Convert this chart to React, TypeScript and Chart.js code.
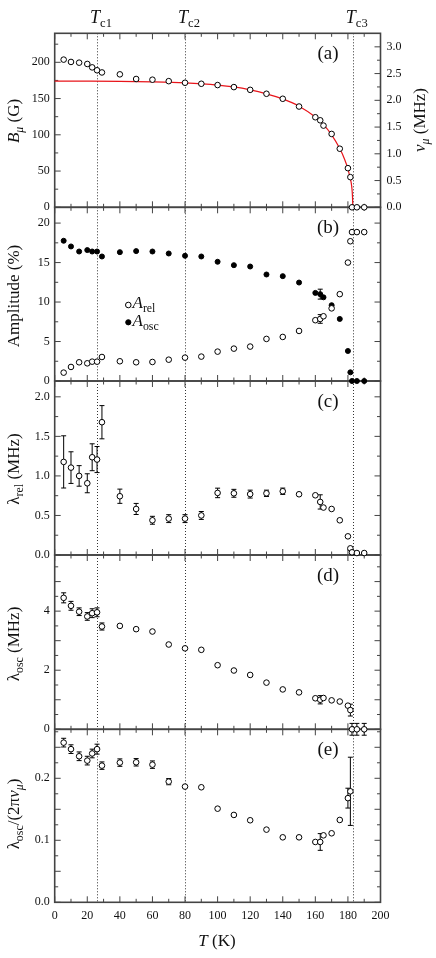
import { useEffect, useRef } from "react";
import Chart from "chart.js/auto";

// temperatures (K) shared by every panel
const temps = [5.5, 10, 15, 20, 23, 26, 29, 40, 50, 60, 70, 80, 90, 100, 110, 120, 130, 140, 150, 160, 163, 165, 170, 175, 180, 181.5, 182.5, 185.5, 190];

// (a) internal field
const fieldB = [203.7, 200.5, 199.5, 197.7, 193, 189, 186, 183.4, 177, 176, 174, 171.8, 170.4, 168.6, 165.8, 162, 156.6, 149.7, 139, 124.2, 120, 112.7, 101.2, 80.8, 54, 41.6, 0, 0, 0];
const fitT = [0, 20, 40, 60, 80, 100, 110, 120, 130, 140, 150, 160, 165, 170, 175, 178, 180, 181, 182, 182.5, 182.8, 183];
const fitB = [174, 174, 173.8, 173, 171.5, 168.5, 166, 162, 156.5, 149.5, 139.5, 124.5, 114, 100, 81, 66, 53, 44, 34, 25, 15, 0];

// (b) amplitudes
const ampRel = [1.06, 1.78, 2.37, 2.24, 2.45, 2.45, 3.04, 2.5, 2.37, 2.41, 2.7, 2.96, 3.09, 3.72, 4.1, 4.36, 5.33, 5.58, 6.34, 7.7, 7.86, 8.2, 9.2, 11.0, 15.0, 17.7, 18.86, 18.86, 18.86];
const ampRelErr = [0, 0, 0, 0, 0, 0, 0, 0, 0, 0, 0, 0, 0, 0, 0, 0, 0, 0, 0, 0, 0.55, 0, 0, 0, 0, 0, 0, 0, 0];
const ampOsc = [17.76, 17.04, 16.4, 16.58, 16.4, 16.4, 15.77, 16.32, 16.45, 16.4, 16.15, 15.86, 15.77, 15.1, 14.67, 14.5, 13.49, 13.28, 12.47, 11.16, 11.0, 10.6, 9.6, 7.86, 3.8, 1.1, 0, 0, 0];
const ampOscErr = [0, 0, 0, 0, 0, 0, 0, 0, 0, 0, 0, 0, 0, 0, 0, 0, 0, 0, 0, 0, 0.63, 0, 0, 0, 0, 0, 0, 0, 0.35];

// (c) relaxation rate
const lamRel = [1.177, 1.105, 1.0, 0.907, 1.236, 1.207, 1.679, 0.743, 0.582, 0.439, 0.46, 0.46, 0.5, 0.785, 0.78, 0.77, 0.78, 0.806, 0.768, 0.755, 0.671, 0.6, 0.582, 0.439, 0.236, 0.084, 0.034, 0.025, 0.025];
const lamRelErr = [0.33, 0.2, 0.13, 0.12, 0.17, 0.165, 0.21, 0.09, 0.07, 0.05, 0.05, 0.05, 0.05, 0.06, 0.05, 0.05, 0.04, 0.04, 0.035, 0.02, 0.09, 0.02, 0.02, 0.02, 0.02, 0.02, 0.02, 0.02, 0.02];

// (d) oscillation damping
const lamOsc = [4.45, 4.18, 3.98, 3.82, 3.93, 3.96, 3.48, 3.5, 3.39, 3.31, 2.87, 2.74, 2.69, 2.17, 1.99, 1.84, 1.58, 1.35, 1.25, 1.05, 1.0, 1.06, 0.98, 0.94, 0.8, 0.65, 0, 0, 0];
const lamOscErr = [0.17, 0.15, 0.13, 0.13, 0.15, 0.15, 0.12, 0.1, 0.1, 0.1, 0.08, 0.08, 0.06, 0.04, 0.04, 0.03, 0.03, 0.03, 0.03, 0.03, 0.14, 0.03, 0.03, 0.03, 0.1, 0.2, 0.2, 0.2, 0.2];

// (e) damping / frequency
const ratio = [0.2575, 0.247, 0.2355, 0.2285, 0.24, 0.247, 0.2204, 0.2253, 0.2258, 0.222, 0.1946, 0.1866, 0.1855, 0.151, 0.1409, 0.1323, 0.1172, 0.1048, 0.1048, 0.0973, 0.0973, 0.108, 0.1113, 0.1328, 0.168, 0.179, null, null, null];
const ratioErr = [0.007, 0.007, 0.007, 0.007, 0.007, 0.008, 0.006, 0.006, 0.006, 0.006, 0.005, 0.004, 0.004, 0.003, 0.003, 0.003, 0.002, 0.002, 0.002, 0.002, 0.0135, 0.002, 0.002, 0.004, 0.016, 0.055, 0, 0, 0];

// transition temperatures
const tcValues = [26, 80, 183];
const tcNames = ["c1", "c2", "c3"];

// ticks
const xLabels = [0, 20, 40, 60, 80, 100, 120, 140, 160, 180, 200];
const xMinor = [10, 30, 50, 70, 90, 110, 130, 150, 170, 190];
const bLabels = [0, 50, 100, 150, 200];
const bMinor = [25, 75, 125, 175, 225];
const nuLabels = [0, 0.5, 1.0, 1.5, 2.0, 2.5, 3.0];
const nuMinor = [0.25, 0.75, 1.25, 1.75, 2.25, 2.75];
const ampLabels = [0, 5, 10, 15, 20];
const ampMinor = [2.5, 7.5, 12.5, 17.5];
const relLabels = [0, 0.5, 1.0, 1.5, 2.0];
const relMinor = [0.25, 0.75, 1.25, 1.75];
const oscLabels = [0, 2, 4];
const oscMajor = [1, 3, 5];
const oscMinor = [0.5, 1.5, 2.5, 3.5, 4.5, 5.5];
const ratioLabels = [0, 0.1, 0.2];
const ratioMajor = [0.05, 0.15, 0.25];
const ratioMinor = [0.025, 0.075, 0.125, 0.175, 0.225, 0.275];

const GAMMA = 0.013554; // MHz per G

const W = 436;
const H = 958;
const LEFT = 54.7;
const RIGHT_W = W - 380.5;
const X_AXIS_H = 24;
const FONT = '"Liberation Serif", "Times New Roman", serif';
const INK = "#111";
const FRAME = "#444";

interface Seg { t: string; it?: boolean; sub?: boolean }

function segFont(s: Seg, size: number) {
  return `${s.it ? "italic " : ""}${s.sub ? size * 0.7 : size}px ${FONT}`;
}

function drawRich(ctx: CanvasRenderingContext2D, segs: Seg[], x: number, y: number, size: number, rotate = false, align: "center" | "left" = "center") {
  ctx.save();
  ctx.translate(x, y);
  if (rotate) ctx.rotate(-Math.PI / 2);
  let w = 0;
  for (const s of segs) {
    ctx.font = segFont(s, size);
    w += ctx.measureText(s.t).width;
  }
  let cx = align === "center" ? -w / 2 : 0;
  ctx.textBaseline = "middle";
  ctx.textAlign = "left";
  ctx.fillStyle = INK;
  for (const s of segs) {
    ctx.font = segFont(s, size);
    ctx.fillText(s.t, cx, s.sub ? size * 0.3 : 0);
    cx += ctx.measureText(s.t).width;
  }
  ctx.restore();
}

function pts(vals: (number | null)[], errs?: number[]) {
  return temps.flatMap((t, i) => (vals[i] == null ? [] : [{ x: t, y: vals[i] as number, e: errs ? errs[i] : 0 }]));
}

const openPts = (data: any[]) => ({
  data, showLine: false, clip: false, errorBars: true,
  pointRadius: 2.8, pointBorderWidth: 1, pointBorderColor: "#000", pointBackgroundColor: "#fff",
});
const filledPts = (data: any[]) => ({
  data, showLine: false, clip: false, errorBars: true,
  pointRadius: 2.5, pointBorderWidth: 1, pointBorderColor: "#000", pointBackgroundColor: "#000",
});

interface PanelSpec {
  key: string;
  top: number;
  bottom: number;
  yMin: number;
  yMax: number;
  yLabels: number[];
  yMajor: number[];
  yMinor: number[];
  decimals: number;
  letter: string;
  title: Seg[];
  titleY: number;
  datasets: any[];
  right?: boolean;
  showX?: boolean;
  legend?: boolean;
  tcLabels?: boolean;
}

const panels: PanelSpec[] = [
  {
    key: "a", top: 33.3, bottom: 207.3, yMin: 0, yMax: 240,
    yLabels: bLabels, yMajor: [], yMinor: bMinor, decimals: 0, letter: "(a)",
    title: [{ t: "B", it: true }, { t: "μ", it: true, sub: true }, { t: " (G)" }], titleY: 121,
    datasets: [
      openPts(pts(fieldB)),
      { data: fitT.map((t, i) => ({ x: t, y: fitB[i] })), showLine: true, pointRadius: 0, borderColor: "#e8141a", borderWidth: 1.2, cubicInterpolationMode: "monotone", clip: false },
    ],
    right: true, tcLabels: true,
  },
  {
    key: "b", top: 207.3, bottom: 381, yMin: 0, yMax: 22,
    yLabels: ampLabels, yMajor: [], yMinor: ampMinor, decimals: 0, letter: "(b)",
    title: [{ t: "Amplitude (%)" }], titleY: 296,
    datasets: [openPts(pts(ampRel, ampRelErr)), filledPts(pts(ampOsc, ampOscErr))],
    legend: true,
  },
  {
    key: "c", top: 381, bottom: 555, yMin: 0, yMax: 2.2,
    yLabels: relLabels, yMajor: [], yMinor: relMinor, decimals: 1, letter: "(c)",
    title: [{ t: "λ" }, { t: "rel", sub: true }, { t: " (MHz)" }], titleY: 469,
    datasets: [openPts(pts(lamRel, lamRelErr))],
  },
  {
    key: "d", top: 555, bottom: 729.3, yMin: 0, yMax: 5.9,
    yLabels: oscLabels, yMajor: oscMajor, yMinor: oscMinor, decimals: 0, letter: "(d)",
    title: [{ t: "λ" }, { t: "osc", sub: true }, { t: " (MHz)" }], titleY: 644,
    datasets: [openPts(pts(lamOsc, lamOscErr))],
  },
  {
    key: "e", top: 729.3, bottom: 902.3, yMin: 0, yMax: 0.279,
    yLabels: ratioLabels, yMajor: ratioMajor, yMinor: ratioMinor, decimals: 1, letter: "(e)",
    title: [{ t: "λ" }, { t: "osc", sub: true }, { t: "/(2π" }, { t: "ν", it: true }, { t: "μ", it: true, sub: true }, { t: ")" }], titleY: 814,
    datasets: [openPts(pts(ratio, ratioErr))],
    showX: true,
  },
];

function panelPlugin(spec: PanelSpec) {
  return {
    id: "panel_" + spec.key,
    beforeDatasetsDraw(chart: any) {
      const { ctx, chartArea: a } = chart;
      const xs = chart.scales.x;
      const ys = chart.scales.y;
      const line = (x1: number, y1: number, x2: number, y2: number) => {
        ctx.beginPath();
        ctx.moveTo(x1, y1);
        ctx.lineTo(x2, y2);
        ctx.stroke();
      };
      ctx.save();
      // dotted transition lines
      ctx.strokeStyle = "#333";
      ctx.lineWidth = 1;
      ctx.setLineDash([1, 2]);
      for (const t of tcValues) {
        const px = Math.round(xs.getPixelForValue(t)) + 0.5;
        line(px, a.top, px, a.bottom);
      }
      ctx.setLineDash([]);
      // inward ticks
      ctx.strokeStyle = FRAME;
      ctx.lineWidth = 1;
      const xt = (v: number, len: number) => {
        const px = xs.getPixelForValue(v);
        line(px, a.bottom, px, a.bottom - len);
        line(px, a.top, px, a.top + len);
      };
      xLabels.forEach((v) => xt(v, 6));
      xMinor.forEach((v) => xt(v, 3.5));
      const yt = (v: number, len: number, left: boolean, right: boolean, sc = ys) => {
        const py = sc.getPixelForValue(v);
        if (left) line(a.left, py, a.left + len, py);
        if (right) line(a.right, py, a.right - len, py);
      };
      const both = !spec.right;
      [...spec.yLabels, ...spec.yMajor].forEach((v) => yt(v, 6, true, both));
      spec.yMinor.forEach((v) => yt(v, 3.5, true, both));
      if (spec.right) {
        const y2 = chart.scales.y2;
        nuLabels.forEach((v) => yt(v, 6, false, true, y2));
        nuMinor.forEach((v) => yt(v, 3.5, false, true, y2));
      }
      // frame
      ctx.lineWidth = 1.6;
      ctx.strokeRect(a.left, a.top, a.right - a.left, a.bottom - a.top);
      // error bars
      ctx.strokeStyle = "#000";
      ctx.lineWidth = 1;
      chart.data.datasets.forEach((ds: any, i: number) => {
        if (!ds.errorBars) return;
        const meta = chart.getDatasetMeta(i);
        meta.data.forEach((el: any, j: number) => {
          const p = ds.data[j];
          if (!p || !p.e) return;
          const yTop = ys.getPixelForValue(p.y + p.e);
          const yBot = ys.getPixelForValue(p.y - p.e);
          if (yBot - yTop < 6) return;
          line(el.x, yTop, el.x, yBot);
          line(el.x - 2.5, yTop, el.x + 2.5, yTop);
          line(el.x - 2.5, yBot, el.x + 2.5, yBot);
        });
      });
      ctx.restore();
    },
    afterDraw(chart: any) {
      const { ctx, chartArea: a } = chart;
      const xs = chart.scales.x;
      drawRich(ctx, [{ t: spec.letter }], 328, a.top + 21, 19);
      drawRich(ctx, spec.title, 15, spec.titleY, 17, true);
      if (spec.right) {
        drawRich(ctx, [{ t: "ν", it: true }, { t: "μ", it: true, sub: true }, { t: " (MHz)" }], 421, 120, 17, true);
      }
      if (spec.tcLabels) {
        tcValues.forEach((t, i) => {
          drawRich(ctx, [{ t: "T", it: true }, { t: tcNames[i], sub: true }], xs.getPixelForValue(t) + 4, 18, 18);
        });
      }
      if (spec.showX) {
        drawRich(ctx, [{ t: "T", it: true }, { t: " (K)" }], 217, 942, 17);
      }
      if (spec.legend) {
        ctx.save();
        ctx.strokeStyle = "#000";
        ctx.lineWidth = 1;
        ctx.fillStyle = "#fff";
        ctx.beginPath();
        ctx.arc(128.3, 305, 2.8, 0, Math.PI * 2);
        ctx.fill();
        ctx.stroke();
        ctx.fillStyle = "#000";
        ctx.beginPath();
        ctx.arc(128.3, 322.3, 2.6, 0, Math.PI * 2);
        ctx.fill();
        ctx.stroke();
        ctx.restore();
        drawRich(ctx, [{ t: "A", it: true }, { t: "rel", sub: true }], 132.5, 304, 17, false, "left");
        drawRich(ctx, [{ t: "A", it: true }, { t: "osc", sub: true }], 132.5, 321.5, 17, false, "left");
      }
    },
  };
}

function buildConfig(spec: PanelSpec): any {
  const tickFont = { family: FONT, size: 12 };
  const scales: any = {
    x: {
      type: "linear", min: 0, max: 200, display: !!spec.showX,
      grid: { display: false, drawTicks: false }, border: { display: false },
      ticks: { font: tickFont, color: INK, padding: 6, maxRotation: 0 },
      afterBuildTicks: (s: any) => { s.ticks = xLabels.map((v) => ({ value: v })); },
      afterFit: (s: any) => { s.height = spec.showX ? X_AXIS_H : 0; },
    },
    y: {
      type: "linear", position: "left", min: spec.yMin, max: spec.yMax,
      grid: { display: false, drawTicks: false }, border: { display: false },
      ticks: { font: tickFont, color: INK, padding: 5, callback: (v: any) => Number(v).toFixed(spec.decimals) },
      afterBuildTicks: (s: any) => { s.ticks = spec.yLabels.map((v) => ({ value: v })); },
      afterFit: (s: any) => { s.width = LEFT; },
    },
  };
  if (spec.right) {
    scales.y2 = {
      type: "linear", position: "right", axis: "y", display: true,
      min: spec.yMin * GAMMA, max: spec.yMax * GAMMA,
      grid: { display: false, drawTicks: false }, border: { display: false },
      ticks: { font: tickFont, color: INK, padding: 6, callback: (v: any) => Number(v).toFixed(1) },
      afterBuildTicks: (s: any) => { s.ticks = nuLabels.map((v) => ({ value: v })); },
      afterFit: (s: any) => { s.width = RIGHT_W; },
    };
  }
  return {
    type: "scatter",
    data: { datasets: spec.datasets },
    options: {
      animation: false,
      responsive: false,
      layout: {
        padding: {
          top: spec.top,
          bottom: H - spec.bottom - (spec.showX ? X_AXIS_H : 0),
          left: 0,
          right: spec.right ? 0 : RIGHT_W,
        },
      },
      plugins: { legend: { display: false }, tooltip: { enabled: false } },
      scales,
    },
    plugins: [panelPlugin(spec)],
  };
}

function Panel({ spec, z }: { spec: PanelSpec; z: number }) {
  const canvasRef = useRef<HTMLCanvasElement>(null);

  useEffect(() => {
    if (!canvasRef.current) return;
    const chart = new Chart(canvasRef.current, buildConfig(spec));
    return () => {
      chart.destroy();
    };
  }, [spec]);

  return (
    <canvas
      ref={canvasRef}
      width={W}
      height={H}
      style={{ position: "absolute", left: 0, top: 0, width: W, height: H, zIndex: z }}
    />
  );
}

export default function App() {
  return (
    <div style={{ position: "fixed", left: 0, top: 0, width: W, height: H, background: "#fff" }}>
      {panels.map((p, i) => (
        <Panel key={p.key} spec={p} z={panels.length - i} />
      ))}
    </div>
  );
}
